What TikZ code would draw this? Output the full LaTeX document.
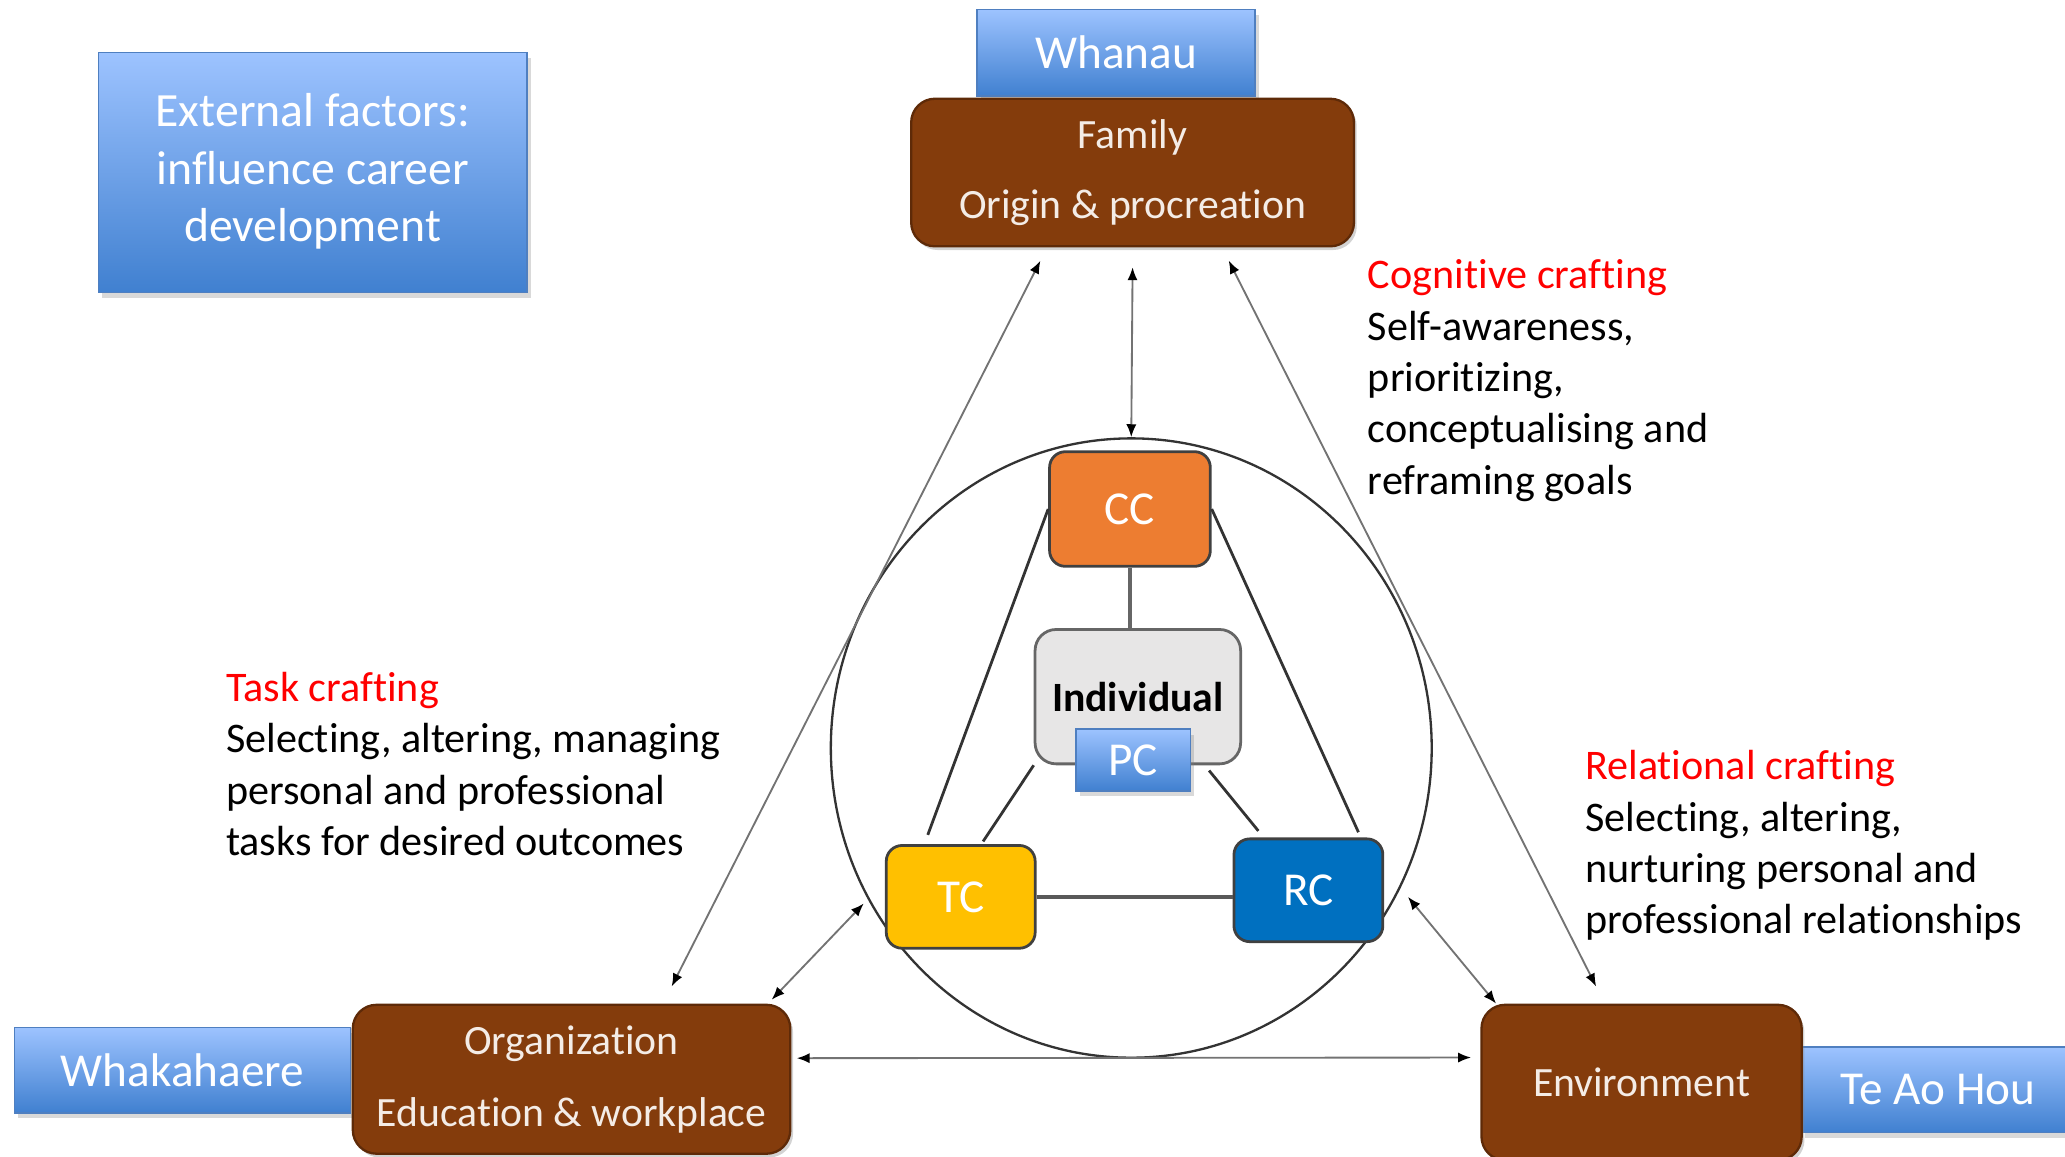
\documentclass[tikz,border=0pt]{standalone}
\usepackage{fontspec}
\setmainfont{Carlito}[Ligatures=NoCommon]
\usetikzlibrary{shapes.geometric,arrows.meta,shadows,calc}
\definecolor{brownbox}{HTML}{843C0C}
\definecolor{brownline}{HTML}{5E2A08}
\definecolor{browntext}{HTML}{F4ECE6}
\definecolor{bluetop}{HTML}{9DC3FF}
\definecolor{bluebot}{HTML}{4080D0}
\definecolor{blueline}{HTML}{4F7FC0}
\definecolor{ccfill}{HTML}{ED7D31}
\definecolor{tcfill}{HTML}{FFC000}
\definecolor{rcfill}{HTML}{0070C0}
\definecolor{indfill}{HTML}{E7E6E6}
\definecolor{craftred}{HTML}{FF0000}
\tikzstyle{factor} = [rectangle, rounded corners=0.18cm, fill=brownbox, draw=brownline, line width=0.5pt, text=browntext, align=center, font=\fontsize{9}{15}\selectfont, drop shadow={shadow xshift=0.6pt, shadow yshift=-0.8pt, opacity=0.35}]
\tikzstyle{maori} = [rectangle, top color=bluetop, bottom color=bluebot, draw=blueline, line width=0.3pt, text=white, align=center, drop shadow={shadow xshift=0.8pt, shadow yshift=-1.2pt, opacity=0.3}]
\tikzstyle{craft} = [rectangle, rounded corners=0.12cm, draw=black!75, line width=0.6pt, text=white, font=\fontsize{10.2}{12}\selectfont, minimum width=1.13cm, minimum height=0.78cm]
\tikzstyle{note} = [align=left, anchor=west, inner sep=0pt, font=\fontsize{9.1}{11.1}\selectfont]
\tikzstyle{spoke} = [draw=black!80, line width=0.6pt]
\tikzstyle{link} = [draw=black!55, line width=0.4pt, {Latex[length=2.8pt,width=2.2pt,black]}-{Latex[length=2.8pt,width=2.2pt,black]}]

\begin{document}
\begin{tikzpicture}[x=0.01cm, y=-0.01cm]
    \useasboundingbox (0,0) rectangle (1568,878);

    % outer factors
    \node[maori, minimum width=3.25cm, minimum height=1.82cm, font=\fontsize{10.3}{12.4}\selectfont] (ext) at (237.5,131) {\raisebox{-0.8pt}{\begin{tabular}{@{}c@{}}External factors:\\influence career\\development\end{tabular}}};
    \node[maori, minimum width=2.11cm, minimum height=0.66cm, font=\fontsize{10.2}{12}\selectfont] (whanau) at (847.5,40) {Whanau};
    \node[factor, minimum width=3.36cm, minimum height=1.12cm] (family) at (860,131) {Family\\Origin \& procreation};
    \node[maori, minimum width=2.55cm, minimum height=0.65cm, font=\fontsize{10.2}{12}\selectfont] (whak) at (138.5,812.5) {Whakahaere};
    \node[factor, minimum width=3.32cm, minimum height=1.13cm, font=\fontsize{9}{15.6}\selectfont] (org) at (434,819.5) {Organization\\Education \& workplace};
    \node[maori, minimum width=2.07cm, minimum height=0.65cm, font=\fontsize{10.2}{12}\selectfont] (tea) at (1471.5,827.5) {Te Ao Hou};
    \node[factor, minimum width=2.43cm, minimum height=1.18cm] (env) at (1246.5,822) {Environment};

    % individual and the three craftings
    \node[ellipse, draw=black!80, line width=0.5pt, minimum width=4.56cm, minimum height=4.70cm] (ring) at (859,568) {};
    \node[rectangle, rounded corners=0.16cm, fill=indfill, draw=black!60, line width=0.6pt, minimum width=1.56cm, minimum height=1.02cm, font=\bfseries\fontsize{9}{11}\selectfont] (indiv) at (864,529) {Individual};
    \node[maori, minimum width=0.87cm, minimum height=0.40cm, font=\fontsize{10.2}{12}\selectfont] (pc) at (860.5,577) {PC};
    \node[craft, fill=ccfill, minimum width=1.22cm, minimum height=0.87cm] (cc) at (858,386.5) {CC};
    \node[craft, fill=tcfill] (tc) at (729.5,681) {TC};
    \node[craft, fill=rcfill] (rc) at (993.5,676) {RC};

    \draw[spoke, black!60, line width=0.7pt] (cc.south) -- (cc.south |- indiv.north);
    \draw[spoke, black!65, line width=0.9pt] (tc.east) -- (tc.east -| rc.west);
    \draw[spoke] (cc.west) -- ($(tc.north)+(-25,-7)$);
    \draw[spoke] (cc.east) -- ($(rc.north)+(38,-4)$);
    \draw[spoke] (indiv.south west) -- ($(tc.north)+(17,-2)$);
    \draw[spoke] ($(indiv.south east)+(-25,4)$) -- ($(rc.north)+(-38,-5)$);

    % crafting notes
    \node[note] (cog) at (1038,289) {\textcolor{craftred}{Cognitive crafting}\\Self-awareness,\\prioritizing,\\conceptualising and\\reframing goals};
    \node[note] (task) at (171,580) {\textcolor{craftred}{Task crafting}\\Selecting, altering, managing\\personal and professional\\tasks for desired outcomes};
    \node[note] (rel) at (1203,642) {\textcolor{craftred}{Relational crafting}\\Selecting, altering,\\nurturing personal and\\professional relationships};

    % influences
    \draw[link] ($(family.south)+(0,15)$) -- (ring.north);
    \draw[link] ($(family.south)+(-70,10)$) -- ($(org.north)+(76,-13)$);
    \draw[link] ($(family.south)+(73,10)$) -- ($(env.north)+(-34.5,-13)$);
    \draw[link] ($(tc.west)+(-16,5)$) -- ($(org.north east)+(-15,-3)$);
    \draw[link] ($(rc.east)+(18,5)$) -- ($(env.north west)+(12,0)$);
    \draw[link] ($(org.east)+(4,-16)$) -- ($(env.west)+(-7,-19)$);
\end{tikzpicture}
\end{document}
